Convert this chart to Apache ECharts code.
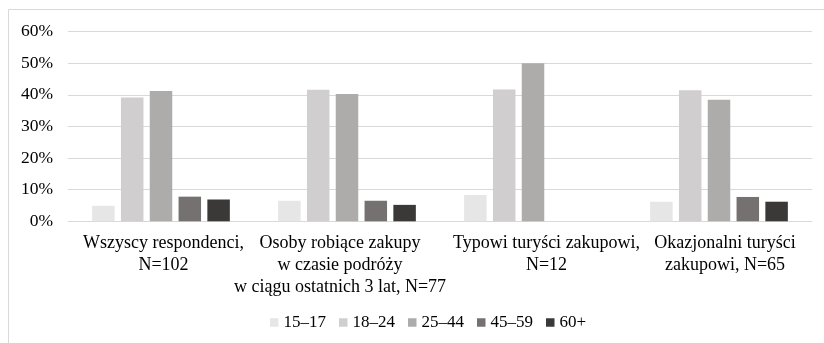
<!DOCTYPE html>
<html>
<head>
<meta charset="utf-8">
<script src="https://cdn.jsdelivr.net/npm/echarts@6/dist/echarts.min.js"></script>
<style>
html,body{margin:0;padding:0;background:#fff;}
#c{width:824px;height:343px;}
#pre{position:absolute;left:-1000px;top:0;font-family:'Liberation Serif';font-size:18px;}
</style>
</head>
<body>
<div id="pre">Wszyscy 60% ąż</div>
<div id="c"></div>
<script>
var categories = [
  "Wszyscy respondenci,\nN=102",
  "Osoby robiące zakupy\nw czasie podróży\nw ciągu ostatnich 3 lat, N=77",
  "Typowi turyści zakupowi,\nN=12",
  "Okazjonalni turyści\nzakupowi, N=65"
];
var seriesNames = ["15–17", "18–24", "25–44", "45–59", "60+"];
var v15_17 = [4.9, 6.5, 8.3, 6.2];
var v18_24 = [39.2, 41.6, 41.7, 41.5];
var v25_44 = [41.2, 40.3, 50.0, 38.5];
var v45_59 = [7.8, 6.5, 0, 7.7];
var v60p   = [6.9, 5.2, 0, 6.2];
var yTicks = [0, 10, 20, 30, 40, 50, 60];

var seriesValues = [v15_17, v18_24, v25_44, v45_59, v60p];
var colors = ["#e7e6e6", "#d0cece", "#aeabab", "#767171", "#3b3838"];
var labelPads = [[0, 0, 0, 5], [0, 14, 0, 0], [0, 0, 0, 27], [0, 0, 0, 12]];
var FONT = 'Liberation Serif';

function draw() {
  var chart = echarts.init(document.getElementById('c'), null, {renderer: 'canvas'});
  chart.setOption({
    animation: false,
    backgroundColor: '#fff',
    textStyle: {fontFamily: FONT, color: '#000'},
    graphic: [{
      type: 'rect',
      shape: {x: 8.5, y: 9.5, width: 900, height: 400},
      style: {fill: null, stroke: '#d9d9d9', lineWidth: 1},
      silent: true
    }],
    grid: {left: 68, right: 12, top: 31.7, bottom: 121.7, containLabel: false},
    legend: {
      data: seriesNames,
      left: 265,
      top: 309,
      itemWidth: 8.5,
      itemHeight: 8.5,
      itemGap: 13,
      icon: 'rect',
      textStyle: {fontFamily: FONT, fontSize: 17, color: '#000'}
    },
    xAxis: {
      type: 'category',
      data: categories.map(function (c, i) {
        return {value: c, textStyle: {padding: labelPads[i]}};
      }),
      axisLine: {show: true, lineStyle: {color: '#d9d9d9', width: 1}},
      axisTick: {show: false},
      axisLabel: {
        interval: 0,
        margin: 11,
        fontFamily: FONT,
        fontSize: 18,
        lineHeight: 22,
        color: '#000',
        align: 'center'
      }
    },
    yAxis: {
      type: 'value',
      min: yTicks[0],
      max: yTicks[yTicks.length - 1],
      interval: 10,
      axisLine: {show: false},
      axisTick: {show: false},
      splitLine: {lineStyle: {color: '#d9d9d9', width: 1}},
      axisLabel: {
        formatter: '{value}%',
        margin: 15,
        fontFamily: FONT,
        fontSize: 17.5,
        color: '#000'
      }
    },
    series: seriesNames.map(function (n, i) {
      return {
        name: n,
        type: 'bar',
        data: seriesValues[i],
        barWidth: 22.5,
        barGap: '28%',
        itemStyle: {color: colors[i]},
        emphasis: {disabled: true}
      };
    })
  });
}
if (document.fonts && document.fonts.load) {
  document.fonts.load('18px "Liberation Serif"').then(draw, draw);
} else {
  draw();
}
</script>
</body>
</html>
